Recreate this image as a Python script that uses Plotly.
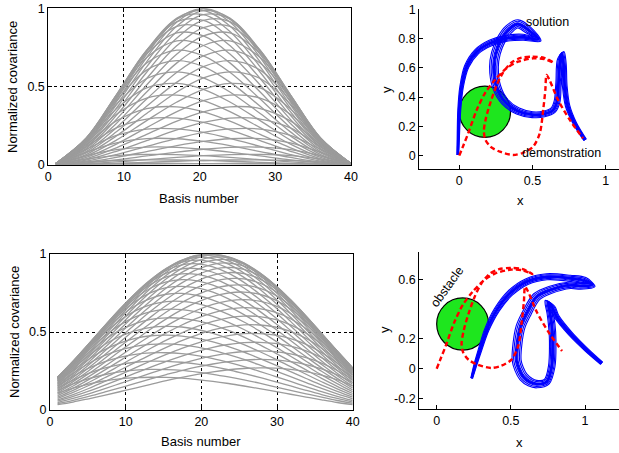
import math
import plotly.graph_objects as go

# ---------------- data: normalized covariance curves ----------------
top_basis = [1, 5, 9, 13, 17, 20.5, 24, 28, 32, 36, 40]
top_cov_rows = [
    [0.001, 0.005, 0.007, 0.008, 0.008, 0.007, 0.006, 0.004, 0.002, 0.001, 0.000],
    [0.002, 0.018, 0.027, 0.031, 0.030, 0.027, 0.022, 0.015, 0.008, 0.003, 0.000],
    [0.003, 0.036, 0.058, 0.066, 0.065, 0.058, 0.047, 0.032, 0.018, 0.006, 0.000],
    [0.004, 0.057, 0.096, 0.112, 0.111, 0.099, 0.081, 0.056, 0.031, 0.011, 0.000],
    [0.005, 0.079, 0.140, 0.167, 0.166, 0.149, 0.122, 0.084, 0.047, 0.016, 0.001],
    [0.006, 0.098, 0.187, 0.228, 0.229, 0.207, 0.169, 0.117, 0.065, 0.023, 0.001],
    [0.006, 0.114, 0.235, 0.292, 0.298, 0.270, 0.222, 0.154, 0.086, 0.030, 0.001],
    [0.007, 0.128, 0.280, 0.359, 0.370, 0.338, 0.279, 0.194, 0.108, 0.038, 0.002],
    [0.007, 0.140, 0.322, 0.426, 0.445, 0.409, 0.339, 0.237, 0.132, 0.047, 0.002],
    [0.008, 0.150, 0.357, 0.491, 0.520, 0.482, 0.401, 0.282, 0.157, 0.056, 0.003],
    [0.008, 0.157, 0.386, 0.551, 0.594, 0.555, 0.465, 0.327, 0.184, 0.065, 0.003],
    [0.008, 0.163, 0.409, 0.605, 0.665, 0.627, 0.528, 0.374, 0.210, 0.075, 0.003],
    [0.008, 0.167, 0.426, 0.650, 0.732, 0.696, 0.591, 0.420, 0.237, 0.084, 0.004],
    [0.008, 0.169, 0.438, 0.685, 0.792, 0.762, 0.651, 0.465, 0.264, 0.094, 0.004],
    [0.008, 0.170, 0.445, 0.710, 0.843, 0.823, 0.708, 0.510, 0.290, 0.104, 0.005],
    [0.008, 0.169, 0.447, 0.725, 0.885, 0.877, 0.762, 0.551, 0.315, 0.113, 0.005],
    [0.008, 0.166, 0.445, 0.732, 0.915, 0.923, 0.810, 0.591, 0.339, 0.122, 0.006],
    [0.008, 0.163, 0.439, 0.731, 0.932, 0.959, 0.852, 0.626, 0.362, 0.131, 0.006],
    [0.007, 0.158, 0.429, 0.722, 0.937, 0.985, 0.886, 0.658, 0.382, 0.139, 0.006],
    [0.007, 0.153, 0.417, 0.706, 0.930, 0.998, 0.913, 0.685, 0.401, 0.146, 0.007],
]

bottom_basis = [1, 3.05, 5.11, 7.16, 9.21, 11.26, 13.32, 15.37, 17.42, 19.47,
                21.53, 23.58, 25.63, 27.68, 29.74, 31.79, 33.84, 35.89, 37.95, 40]
bottom_cov_rows = [
    [0.108, 0.140, 0.166, 0.186, 0.199, 0.207, 0.210, 0.209, 0.204, 0.195, 0.184, 0.170, 0.154, 0.137, 0.119, 0.101, 0.083, 0.065, 0.048, 0.034],
    [0.125, 0.167, 0.201, 0.226, 0.244, 0.255, 0.260, 0.259, 0.254, 0.243, 0.229, 0.212, 0.193, 0.172, 0.149, 0.126, 0.104, 0.082, 0.061, 0.042],
    [0.140, 0.192, 0.235, 0.268, 0.291, 0.306, 0.313, 0.312, 0.306, 0.294, 0.278, 0.258, 0.234, 0.209, 0.182, 0.154, 0.126, 0.099, 0.074, 0.051],
    [0.154, 0.215, 0.268, 0.309, 0.338, 0.357, 0.366, 0.367, 0.361, 0.348, 0.329, 0.305, 0.278, 0.248, 0.216, 0.183, 0.150, 0.118, 0.088, 0.061],
    [0.166, 0.235, 0.298, 0.348, 0.384, 0.408, 0.421, 0.424, 0.417, 0.403, 0.382, 0.355, 0.324, 0.289, 0.252, 0.214, 0.176, 0.138, 0.103, 0.072],
    [0.177, 0.253, 0.325, 0.385, 0.429, 0.459, 0.476, 0.480, 0.474, 0.459, 0.436, 0.406, 0.371, 0.331, 0.289, 0.246, 0.202, 0.159, 0.119, 0.083],
    [0.186, 0.268, 0.348, 0.418, 0.471, 0.508, 0.529, 0.536, 0.532, 0.516, 0.491, 0.458, 0.419, 0.375, 0.328, 0.278, 0.229, 0.181, 0.135, 0.094],
    [0.193, 0.280, 0.368, 0.447, 0.510, 0.554, 0.581, 0.591, 0.588, 0.572, 0.546, 0.510, 0.467, 0.419, 0.366, 0.312, 0.257, 0.203, 0.152, 0.106],
    [0.199, 0.291, 0.384, 0.471, 0.544, 0.597, 0.630, 0.645, 0.643, 0.628, 0.600, 0.562, 0.516, 0.463, 0.406, 0.345, 0.285, 0.225, 0.169, 0.117],
    [0.204, 0.299, 0.398, 0.492, 0.573, 0.635, 0.675, 0.695, 0.696, 0.682, 0.653, 0.613, 0.564, 0.507, 0.445, 0.379, 0.313, 0.248, 0.186, 0.129],
    [0.207, 0.306, 0.408, 0.508, 0.597, 0.668, 0.716, 0.742, 0.747, 0.734, 0.705, 0.664, 0.611, 0.550, 0.483, 0.413, 0.341, 0.270, 0.203, 0.141],
    [0.209, 0.310, 0.416, 0.520, 0.616, 0.695, 0.752, 0.784, 0.793, 0.783, 0.755, 0.712, 0.657, 0.593, 0.521, 0.446, 0.369, 0.292, 0.220, 0.153],
    [0.210, 0.313, 0.421, 0.529, 0.630, 0.716, 0.782, 0.821, 0.836, 0.828, 0.801, 0.758, 0.701, 0.634, 0.558, 0.478, 0.396, 0.314, 0.236, 0.165],
    [0.210, 0.313, 0.424, 0.534, 0.639, 0.732, 0.805, 0.853, 0.873, 0.869, 0.844, 0.801, 0.743, 0.673, 0.594, 0.509, 0.422, 0.336, 0.253, 0.176],
    [0.209, 0.312, 0.424, 0.536, 0.645, 0.742, 0.821, 0.877, 0.905, 0.906, 0.883, 0.841, 0.782, 0.710, 0.628, 0.539, 0.448, 0.356, 0.269, 0.188],
    [0.207, 0.310, 0.421, 0.535, 0.646, 0.746, 0.831, 0.894, 0.930, 0.937, 0.918, 0.877, 0.818, 0.744, 0.660, 0.568, 0.472, 0.376, 0.284, 0.199],
    [0.204, 0.306, 0.417, 0.532, 0.643, 0.747, 0.836, 0.905, 0.948, 0.961, 0.947, 0.908, 0.850, 0.776, 0.689, 0.594, 0.495, 0.395, 0.299, 0.209],
    [0.200, 0.301, 0.411, 0.525, 0.637, 0.742, 0.834, 0.908, 0.958, 0.979, 0.970, 0.935, 0.878, 0.804, 0.716, 0.619, 0.516, 0.413, 0.312, 0.219],
    [0.195, 0.294, 0.403, 0.516, 0.628, 0.734, 0.828, 0.906, 0.961, 0.990, 0.987, 0.956, 0.902, 0.828, 0.740, 0.641, 0.536, 0.429, 0.325, 0.228],
    [0.190, 0.287, 0.393, 0.504, 0.615, 0.721, 0.817, 0.897, 0.957, 0.992, 0.997, 0.972, 0.921, 0.849, 0.760, 0.660, 0.553, 0.444, 0.337, 0.237],
    [0.184, 0.278, 0.382, 0.491, 0.600, 0.705, 0.801, 0.883, 0.947, 0.987, 0.999, 0.980, 0.934, 0.864, 0.777, 0.677, 0.568, 0.457, 0.347, 0.245],
    [0.177, 0.268, 0.369, 0.475, 0.582, 0.686, 0.781, 0.864, 0.930, 0.975, 0.994, 0.982, 0.941, 0.875, 0.790, 0.690, 0.581, 0.468, 0.357, 0.252],
    [0.170, 0.258, 0.355, 0.458, 0.562, 0.664, 0.758, 0.841, 0.908, 0.956, 0.980, 0.977, 0.942, 0.881, 0.798, 0.699, 0.591, 0.477, 0.364, 0.258],
    [0.162, 0.246, 0.340, 0.439, 0.540, 0.639, 0.731, 0.813, 0.882, 0.932, 0.960, 0.963, 0.936, 0.880, 0.802, 0.705, 0.598, 0.484, 0.371, 0.263],
    [0.154, 0.234, 0.324, 0.419, 0.516, 0.611, 0.701, 0.782, 0.850, 0.902, 0.934, 0.942, 0.923, 0.874, 0.800, 0.707, 0.602, 0.489, 0.375, 0.266],
    [0.146, 0.222, 0.307, 0.397, 0.490, 0.582, 0.668, 0.747, 0.815, 0.867, 0.902, 0.914, 0.902, 0.861, 0.793, 0.705, 0.602, 0.491, 0.378, 0.269],
    [0.137, 0.209, 0.289, 0.375, 0.463, 0.550, 0.634, 0.710, 0.776, 0.828, 0.864, 0.881, 0.874, 0.841, 0.781, 0.698, 0.599, 0.490, 0.379, 0.270],
    [0.128, 0.195, 0.271, 0.351, 0.435, 0.517, 0.597, 0.670, 0.734, 0.786, 0.823, 0.842, 0.840, 0.814, 0.763, 0.686, 0.592, 0.487, 0.377, 0.270],
    [0.119, 0.182, 0.252, 0.328, 0.406, 0.483, 0.558, 0.628, 0.689, 0.740, 0.777, 0.798, 0.800, 0.781, 0.738, 0.669, 0.581, 0.480, 0.374, 0.269],
    [0.110, 0.168, 0.233, 0.303, 0.376, 0.448, 0.519, 0.584, 0.643, 0.691, 0.728, 0.750, 0.756, 0.742, 0.706, 0.647, 0.566, 0.471, 0.368, 0.266],
    [0.101, 0.154, 0.214, 0.278, 0.345, 0.413, 0.478, 0.539, 0.594, 0.641, 0.677, 0.699, 0.707, 0.698, 0.669, 0.619, 0.546, 0.458, 0.360, 0.261],
    [0.092, 0.140, 0.195, 0.254, 0.315, 0.377, 0.437, 0.494, 0.545, 0.589, 0.623, 0.646, 0.656, 0.650, 0.627, 0.585, 0.522, 0.441, 0.349, 0.255],
    [0.083, 0.126, 0.176, 0.229, 0.285, 0.341, 0.396, 0.448, 0.495, 0.536, 0.568, 0.591, 0.602, 0.599, 0.581, 0.546, 0.493, 0.421, 0.336, 0.246],
    [0.074, 0.113, 0.157, 0.205, 0.255, 0.305, 0.355, 0.402, 0.445, 0.482, 0.513, 0.534, 0.546, 0.545, 0.532, 0.504, 0.459, 0.396, 0.320, 0.236],
    [0.065, 0.099, 0.138, 0.181, 0.225, 0.270, 0.314, 0.356, 0.395, 0.429, 0.457, 0.477, 0.489, 0.490, 0.480, 0.458, 0.421, 0.368, 0.301, 0.224],
    [0.057, 0.087, 0.121, 0.158, 0.196, 0.236, 0.275, 0.312, 0.346, 0.376, 0.402, 0.420, 0.432, 0.434, 0.427, 0.409, 0.379, 0.336, 0.278, 0.210],
    [0.048, 0.074, 0.103, 0.135, 0.169, 0.203, 0.236, 0.269, 0.299, 0.325, 0.347, 0.364, 0.375, 0.379, 0.374, 0.360, 0.336, 0.301, 0.253, 0.194],
    [0.041, 0.062, 0.087, 0.114, 0.142, 0.171, 0.200, 0.227, 0.253, 0.276, 0.295, 0.310, 0.320, 0.324, 0.321, 0.310, 0.291, 0.263, 0.225, 0.176],
    [0.034, 0.051, 0.072, 0.094, 0.117, 0.141, 0.165, 0.188, 0.209, 0.228, 0.245, 0.258, 0.266, 0.270, 0.269, 0.261, 0.246, 0.224, 0.194, 0.155],
]

# ---------------- data: trajectories ----------------
demo_x = [0.0, 0.03, 0.061, 0.119, 0.175, 0.243, 0.323, 0.402, 0.504, 0.58, 0.645,
          0.58, 0.50, 0.42, 0.355, 0.30, 0.255, 0.215, 0.183, 0.168, 0.178, 0.215,
          0.277, 0.368, 0.436, 0.504, 0.55, 0.573, 0.588, 0.596, 0.615, 0.675, 0.755, 0.845]
demo_y = [0.0, 0.075, 0.153, 0.312, 0.426, 0.517, 0.597, 0.642, 0.665, 0.66, 0.635,
          0.668, 0.676, 0.668, 0.635, 0.57, 0.48, 0.37, 0.26, 0.17, 0.11, 0.06,
          0.027, 0.005, 0.02, 0.061, 0.153, 0.312, 0.45, 0.551, 0.52, 0.38, 0.244, 0.119]

sol_top_x = [-0.01, -0.006, 0.0, 0.016, 0.05, 0.119, 0.209, 0.323, 0.436, 0.539,
             0.47, 0.40, 0.34, 0.285, 0.25, 0.237, 0.255, 0.31, 0.40, 0.50,
             0.58, 0.64, 0.668, 0.678, 0.69, 0.70, 0.712, 0.72, 0.74, 0.79, 0.86]
sol_top_y = [0.005, 0.153, 0.312, 0.471, 0.608, 0.71, 0.768, 0.802, 0.809, 0.795,
             0.86, 0.90, 0.865, 0.79, 0.70, 0.608, 0.471, 0.37, 0.305, 0.28,
             0.285, 0.31, 0.37, 0.50, 0.66, 0.70, 0.63, 0.48, 0.34, 0.22, 0.107]
sol_top_spread = [0.006, 0.008, 0.01, 0.012, 0.015, 0.018, 0.02, 0.02, 0.02, 0.022,
                  0.025, 0.028, 0.03, 0.03, 0.03, 0.03, 0.028, 0.025, 0.022, 0.02,
                  0.02, 0.02, 0.02, 0.018, 0.018, 0.018, 0.018, 0.016, 0.015, 0.012, 0.01]

sol_bot_x = [0.236, 0.262, 0.292, 0.337, 0.405, 0.494, 0.607, 0.742, 0.899, 1.0, 1.05,
             0.97, 0.899, 0.764, 0.674, 0.607, 0.565, 0.545, 0.539, 0.555, 0.584,
             0.63, 0.674, 0.742, 0.775, 0.782, 0.775, 0.764, 0.75, 0.78, 0.809,
             0.899, 1.011, 1.113]
sol_bot_y = [-0.064, 0.03, 0.126, 0.26, 0.394, 0.506, 0.584, 0.617, 0.607, 0.59, 0.565,
             0.555, 0.56, 0.528, 0.483, 0.372, 0.28, 0.17, 0.058, 0.0, -0.054,
             -0.09, -0.103, -0.087, 0.013, 0.193, 0.30, 0.372, 0.45, 0.41, 0.349,
             0.238, 0.126, 0.036]
sol_bot_spread = [0.006, 0.01, 0.012, 0.015, 0.018, 0.02, 0.02, 0.02, 0.02, 0.022, 0.022,
                  0.022, 0.022, 0.025, 0.028, 0.03, 0.03, 0.03, 0.03, 0.03, 0.03,
                  0.028, 0.025, 0.022, 0.022, 0.022, 0.022, 0.02, 0.02, 0.018, 0.016,
                  0.014, 0.012, 0.01]

strand_offsets = [-1.0, -0.65, -0.3, 0.0, 0.3, 0.65, 1.0]
obstacle_center = (0.175, 0.30)
obstacle_radius = 0.175

# ---------------- styling ----------------
FONT = "Liberation Sans, Arial, sans-serif"
GRAY = "#9b9b9b"
BLUE = "#0000ff"
RED = "#ff0000"
GREEN = "#1ee61e"

fig = go.Figure()


def add_line(x, y, xa, ya, color, width, dash=None, smoothing=1.0):
    fig.add_trace(go.Scatter(
        x=x, y=y, mode="lines", xaxis=xa, yaxis=ya, showlegend=False, hoverinfo="skip",
        line=dict(color=color, width=width, shape="spline", smoothing=smoothing,
                  dash=dash if dash else "solid")))


# left panels
for row in top_cov_rows:
    add_line(top_basis, row, "x", "y", GRAY, 1.3)
    add_line(top_basis, row[::-1], "x", "y", GRAY, 1.3)
for row in bottom_cov_rows:
    add_line(bottom_basis, row, "x3", "y3", GRAY, 1.3)


def strands(xs, ys, spread):
    n = len(xs)
    normals = []
    for i in range(n):
        a, b = max(i - 1, 0), min(i + 1, n - 1)
        dx, dy = xs[b] - xs[a], ys[b] - ys[a]
        L = math.hypot(dx, dy) or 1.0
        normals.append((-dy / L, dx / L))
    out = []
    for m in strand_offsets:
        sx = [xs[i] + m * spread[i] * normals[i][0] for i in range(n)]
        sy = [ys[i] + m * spread[i] * normals[i][1] for i in range(n)]
        out.append((sx, sy))
    return out


for (xa, ya, sx, sy, sp) in [("x2", "y2", sol_top_x, sol_top_y, sol_top_spread),
                             ("x4", "y4", sol_bot_x, sol_bot_y, sol_bot_spread)]:
    for (px, py) in strands(sx, sy, sp):
        add_line(px, py, xa, ya, BLUE, 1.1, smoothing=0.9)
    add_line(sx, sy, xa, ya, BLUE, 2.2, smoothing=0.9)
    add_line(demo_x, demo_y, xa, ya, RED, 2.4, dash="5px,3px", smoothing=0.8)

# obstacle circles
cx, cy = obstacle_center
for (xr, yr) in [("x2", "y2"), ("x4", "y4")]:
    fig.add_shape(type="circle", xref=xr, yref=yr,
                  x0=cx - obstacle_radius, x1=cx + obstacle_radius,
                  y0=cy - obstacle_radius, y1=cy + obstacle_radius,
                  fillcolor=GREEN, line=dict(color="black", width=1.2), layer="below")

tickfont = dict(family=FONT, size=12.5, color="black")

left_axis = dict(showline=True, linecolor="black", linewidth=1, mirror="ticks",
                 ticks="inside", ticklen=4, tickcolor="black", automargin=False,
                 showgrid=True, gridcolor="black", griddash="dot", gridwidth=1,
                 zeroline=False, tickfont=tickfont)
right_axis = dict(showline=True, linecolor="black", linewidth=1.3, mirror=False,
                  ticks="inside", ticklen=4, tickcolor="black", automargin=False,
                  showgrid=False, zeroline=False, tickfont=tickfont)

fig.update_layout(
    width=619, height=453, margin=dict(l=0, r=0, t=0, b=0, autoexpand=False),
    paper_bgcolor="white", plot_bgcolor="white",
    font=dict(family=FONT, size=13, color="black"),
    xaxis=dict(domain=[0.078, 0.567], range=[0, 40], anchor="y",
               tickvals=[0, 10, 20, 30, 40], **left_axis),
    yaxis=dict(domain=[0.6364, 0.9817], range=[0, 1], anchor="x",
               tickvals=[0, 0.5, 1], ticktext=["0", "0.5", "1"], **left_axis),
    xaxis3=dict(domain=[0.0808, 0.5698], range=[0, 40], anchor="y3",
                tickvals=[0, 10, 20, 30, 40], **left_axis),
    yaxis3=dict(domain=[0.0949, 0.4393], range=[0, 1], anchor="x3",
                tickvals=[0, 0.5, 1], ticktext=["0", "0.5", "1"], **left_axis),
    xaxis2=dict(domain=[0.6774, 1.0], range=[-0.273, 1.091], anchor="y2",
                tickvals=[0, 0.5, 1], ticktext=["0", "0.5", "1"], **right_axis),
    yaxis2=dict(domain=[0.6263, 0.9795], range=[-0.093, 1.0], anchor="x2",
                tickvals=[0, 0.2, 0.4, 0.6, 0.8, 1],
                ticktext=["0", "0.2", "0.4", "0.6", "0.8", "1"], **right_axis),
    xaxis4=dict(domain=[0.6774, 1.0], range=[-0.117, 1.229], anchor="y4",
                tickvals=[0, 0.5, 1], ticktext=["0", "0.5", "1"], **right_axis),
    yaxis4=dict(domain=[0.0965, 0.4444], range=[-0.272, 0.785], anchor="x4",
                tickvals=[-0.2, 0, 0.2, 0.6], ticktext=["-0.2", "0", "0.2", "0.6"],
                **right_axis),
)

def px_ann(text, x, y, angle=0, size=13):
    fig.add_annotation(text=text, xref="paper", yref="paper",
                       x=x / 619, y=1 - y / 453, showarrow=False, textangle=angle,
                       xanchor="center", yanchor="middle",
                       font=dict(family=FONT, size=size, color="black"))

px_ann("Normalized covariance", 13, 87, -90)
px_ann("Basis number", 199, 198)
px_ann("Normalized covariance", 14, 332, -90)
px_ann("Basis number", 201, 441)
px_ann("y", 386, 90, -90)
px_ann("x", 520, 200)
px_ann("y", 384, 330, -90)
px_ann("x", 519, 442)

for (txt, x, y, xr, yr, ang) in [("solution", 0.60, 0.913, "x2", "y2", 0),
                                 ("demonstration", 0.698, 0.016, "x2", "y2", 0),
                                 ("obstacle", 0.07, 0.548, "x4", "y4", -54)]:
    fig.add_annotation(text=txt, xref=xr, yref=yr, x=x, y=y, showarrow=False,
                       textangle=ang, xanchor="center", yanchor="middle",
                       font=dict(family=FONT, size=12.5, color="black"))

fig.write_html("out.html", config={"displayModeBar": False},
               post_script="document.body.style.margin='0px';document.body.style.overflow='hidden';")
